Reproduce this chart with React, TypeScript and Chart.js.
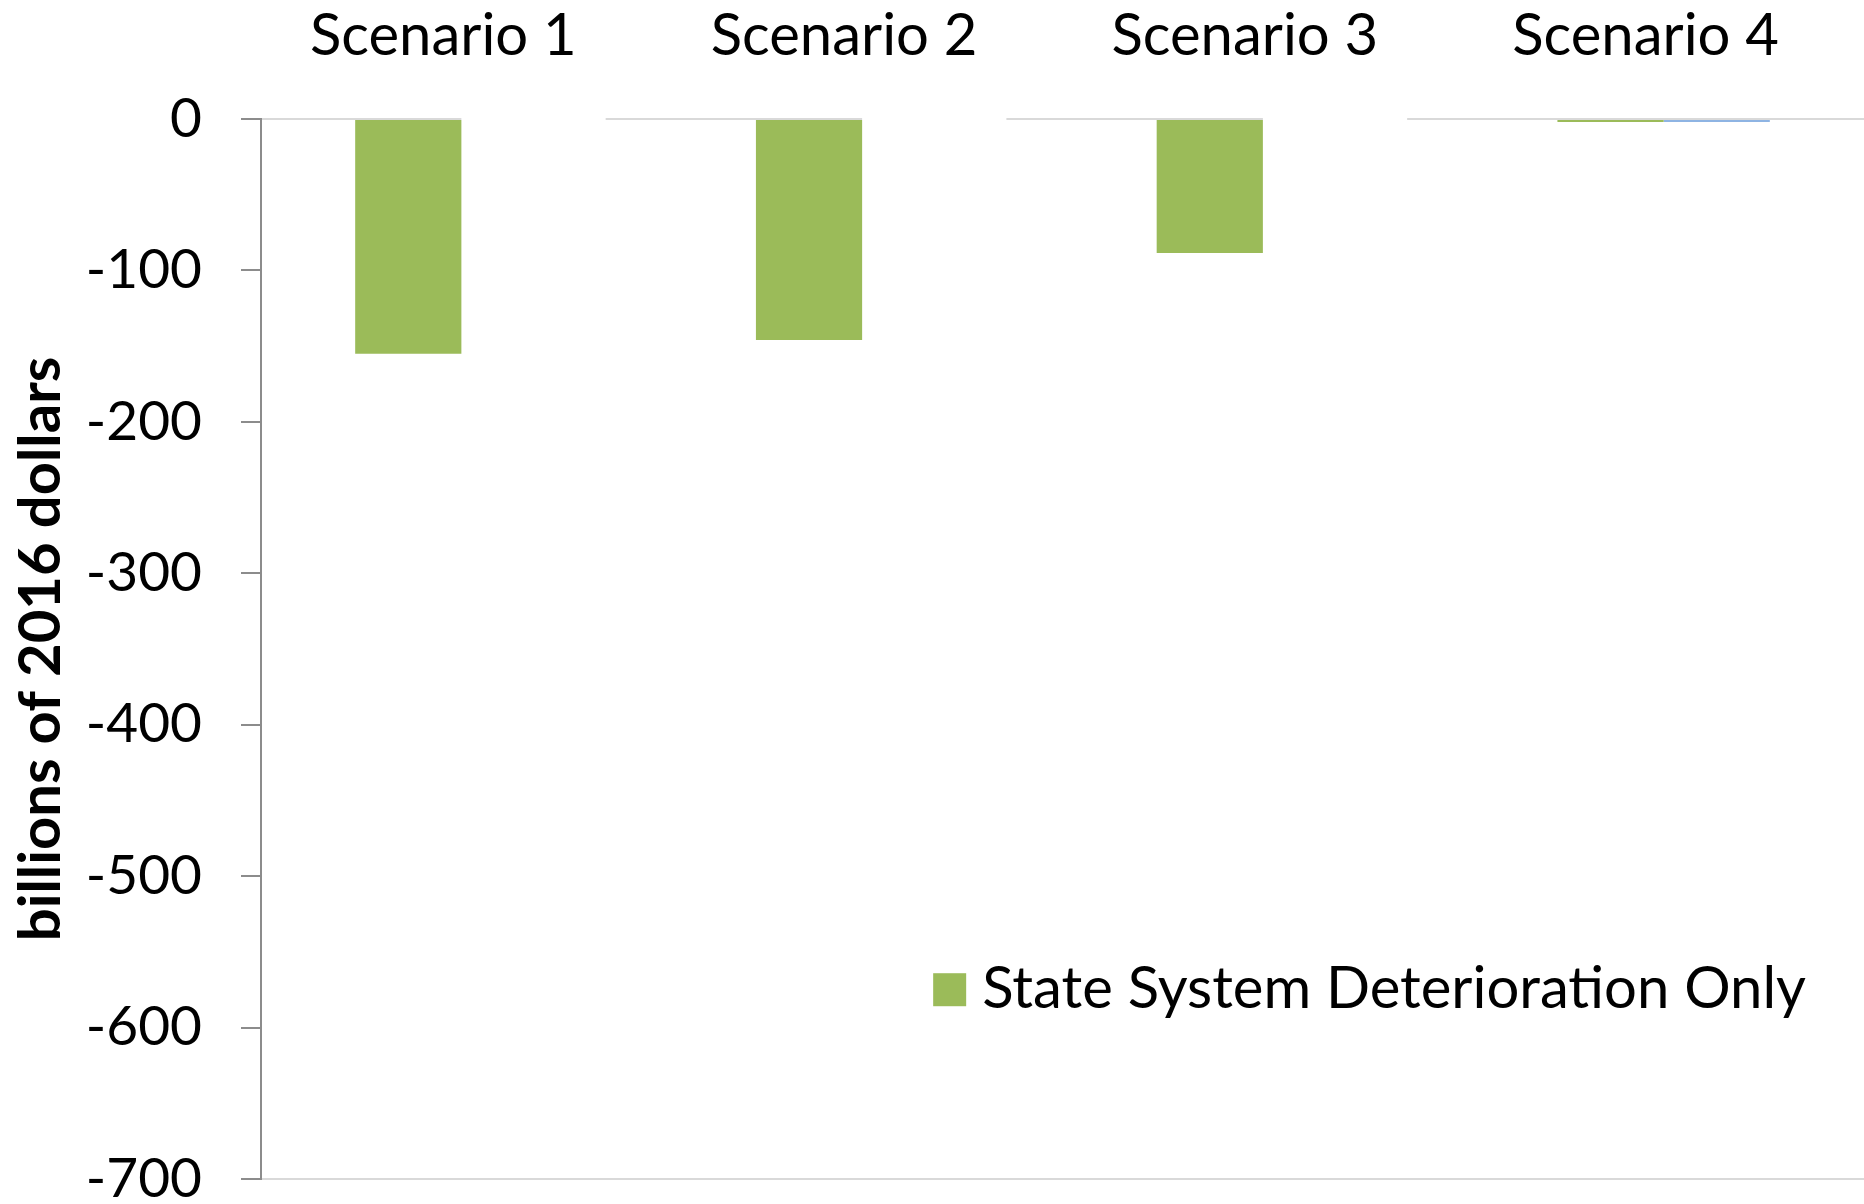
import React, { useEffect, useRef } from "react";
import { Chart, registerables } from "chart.js";

Chart.register(...registerables);

// ---- data ----
const categories: string[] = ["Scenario 1", "Scenario 2", "Scenario 3", "Scenario 4"];
const stateSystemDeteriorationOnly: number[] = [-155, -146, -88.5, -2];
const secondSeries: number[] = [0, 0, 0, -2];
const legendLabel = "State System Deterioration Only";
const secondLabel = "Series 2";
const yAxisTitle = "billions of 2016 dollars";
const yMin = -700;
const yMax = 0;
const yStep = 100;

// ---- styles ----
const GREEN = "#9BBB59";
const BLUE = "#8EB4E3";
const AXIS_GRAY = "#8c8c8c";
const GRID_GRAY = "#d9d9d9";
const FONT = "Lato";

const zeroLineBreaks = {
  id: "zeroLineBreaks",
  beforeDatasetsDraw(chart: any) {
    const { ctx, scales } = chart;
    const x = scales.x;
    const y = scales.y;
    const y0 = y.getPixelForValue(0);
    const slot = x.width / categories.length;
    ctx.save();
    ctx.fillStyle = "#ffffff";
    for (let i = 0; i < categories.length - 1; i++) {
      const c = x.getPixelForValue(i);
      ctx.fillRect(c, y0 - 3, slot * 0.36, 6);
    }
    ctx.restore();
  },
};

const insideLegend = {
  id: "insideLegend",
  afterDraw(chart: any) {
    const { ctx, chartArea, scales } = chart;
    const ds = chart.data.datasets[0];
    ctx.save();
    ctx.font = `58px ${FONT}`;
    const text = ds.label as string;
    const tw = ctx.measureText(text).width;
    const right = chartArea.right - 58;
    const yc = scales.y.getPixelForValue(-575);
    const box = 33;
    const gap = 16;
    const tx = right - tw;
    ctx.fillStyle = ds.backgroundColor;
    ctx.fillRect(tx - gap - box, yc - box / 2, box, box);
    ctx.fillStyle = "#000000";
    ctx.textBaseline = "middle";
    ctx.textAlign = "left";
    ctx.fillText(text, tx, yc);
    ctx.restore();
  },
};

export default function App() {
  const canvasRef = useRef<HTMLCanvasElement | null>(null);

  useEffect(() => {
    document.body.style.margin = "0";
    const canvas = canvasRef.current;
    if (!canvas) return;
    const chart = new Chart(canvas, {
      type: "bar",
      data: {
        labels: categories,
        datasets: [
          {
            label: legendLabel,
            data: stateSystemDeteriorationOnly,
            backgroundColor: GREEN,
            borderWidth: 0,
          },
          {
            label: secondLabel,
            data: secondSeries,
            backgroundColor: BLUE,
            borderWidth: 0,
          },
        ],
      },
      plugins: [zeroLineBreaks, insideLegend],
      options: {
        animation: false,
        responsive: true,
        maintainAspectRatio: false,
        layout: { padding: { left: 0, right: 0, top: 0, bottom: 25 } },
        datasets: { bar: { categoryPercentage: 0.53, barPercentage: 1 } },
        plugins: {
          legend: { display: false },
          tooltip: { enabled: false },
        },
        scales: {
          x: {
            position: "top",
            grid: { display: false, drawTicks: false },
            border: { display: false },
            ticks: {
              color: "#000000",
              font: { family: FONT, size: 58 },
              padding: 48,
              maxRotation: 0,
              autoSkip: false,
              labelOffset: -18,
            },
            afterFit: (scale: any) => {
              scale.height = 119;
              scale.paddingLeft = 0;
              scale.paddingRight = 0;
            },
          },
          y: {
            min: yMin,
            max: yMax,
            ticks: {
              stepSize: yStep,
              color: "#000000",
              font: { family: FONT, size: 55, lineHeight: 1 },
              padding: 39,
            },
            grid: {
              color: (ctx: any) =>
                ctx.tick && (ctx.tick.value === yMax || ctx.tick.value === yMin)
                  ? GRID_GRAY
                  : "rgba(0,0,0,0)",
              lineWidth: 2,
              tickColor: AXIS_GRAY,
              tickLength: 20,
              tickWidth: 2,
            },
            border: { color: AXIS_GRAY, width: 2 },
            title: {
              display: true,
              text: yAxisTitle,
              color: "#000000",
              font: { family: FONT, size: 58, weight: "bold" },
              padding: { top: 6, bottom: 10 },
            },
            afterFit: (scale: any) => {
              scale.width = 261;
              scale.paddingTop = 0;
              scale.paddingBottom = 0;
            },
          },
        },
      },
    } as any);
    return () => chart.destroy();
  }, []);

  return (
    <div style={{ position: "relative", width: 1864, height: 1204, overflow: "hidden", background: "#ffffff" }}>
      <canvas ref={canvasRef} />
    </div>
  );
}
